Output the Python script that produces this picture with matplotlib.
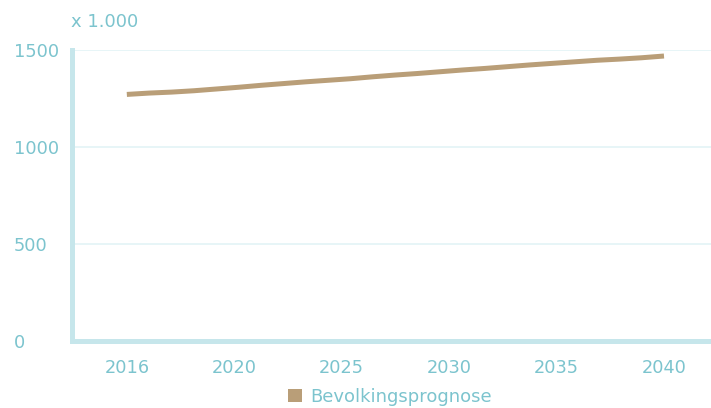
import matplotlib
matplotlib.use("Agg")
import matplotlib.pyplot as plt
from matplotlib.patches import Patch
import numpy as np

years = list(range(2016, 2041))
population = [1271, 1278, 1283, 1290, 1299, 1308, 1318, 1327, 1336, 1344, 1352, 1362, 1371, 1379, 1388,
              1397, 1405, 1414, 1423, 1431, 1439, 1447, 1453, 1460, 1469]
x_tick_labels = ["2016", "2020", "2025", "2030", "2035", "2040"]
y_ticks = [0, 500, 1000, 1500]
y_tick_labels = ["0", "500", "1000", "1500"]
series_name = "Bevolkingsprognose"
unit_label = "x 1.000"

line_color = "#b99e78"
axis_color = "#c6e6eb"
grid_color = "#e3f3f6"
text_color = "#7cc4ce"

W, H = 711, 408
fig = plt.figure(figsize=(W / 100, H / 100), dpi=100)
ax = fig.add_axes([72 / W, (H - 341) / H, 1 - 72 / W, (341 - 50) / H])

ax.plot(years, population, color=line_color, lw=3.6, solid_capstyle="butt", zorder=3)

ax.set_xlim(2013.55, 2042.1)
ax.set_ylim(0, 1500)

ax.set_xticks(np.linspace(years[0], years[-1], len(x_tick_labels)))
ax.set_xticklabels(x_tick_labels)
ax.set_yticks(y_ticks)
ax.set_yticklabels(y_tick_labels, ha="left")

ax.tick_params(axis="both", length=0, colors=text_color, labelsize=12.8)
ax.tick_params(axis="x", pad=13)
ax.tick_params(axis="y", pad=42)

for s in ["top", "right"]:
    ax.spines[s].set_visible(False)
for s in ["left", "bottom"]:
    ax.spines[s].set_color(axis_color)
    ax.spines[s].set_linewidth(3.6)
    ax.spines[s].set_capstyle("projecting")

ax.grid(axis="y", color=grid_color, lw=1.2)
ax.set_axisbelow(True)

fig.text(71 / W, 1 - 22 / H, unit_label, color=text_color, fontsize=13, ha="left", va="center")

handle = Patch(facecolor=line_color, edgecolor="none")
fig.legend([handle], [series_name], loc="center", bbox_to_anchor=(390 / W, 1 - 397 / H),
           frameon=False, fontsize=13, handlelength=0.75, handleheight=0.75, handletextpad=0.45,
           labelcolor=text_color, borderpad=0)

fig.savefig("out.png", dpi=100)
